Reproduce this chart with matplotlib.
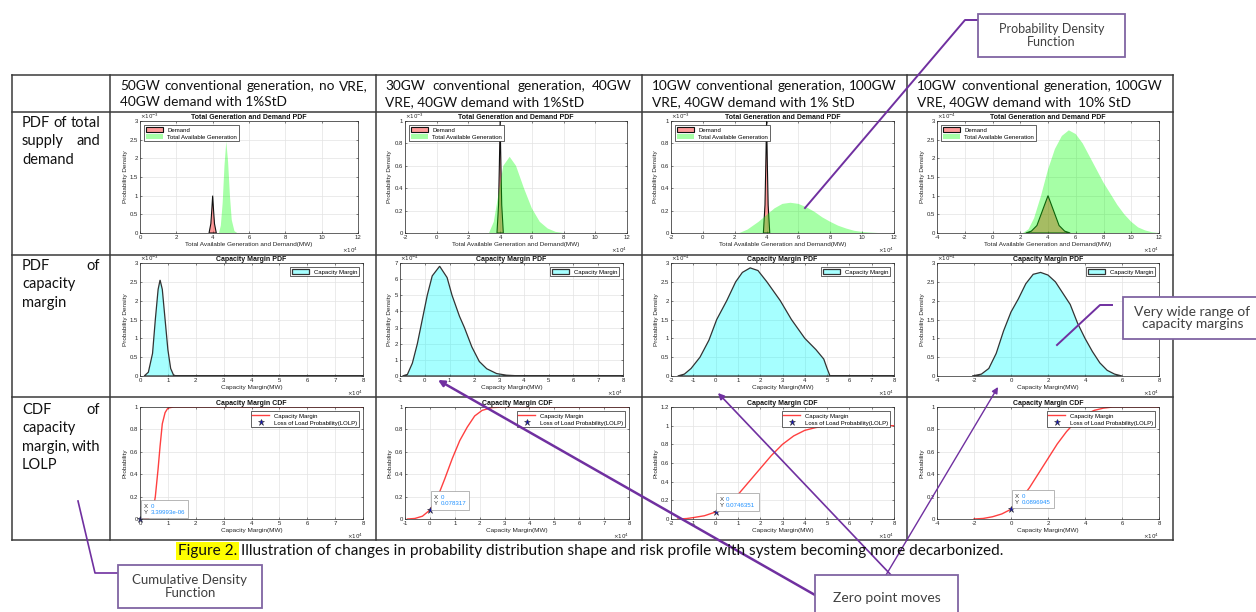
"""Recreate the decarbonisation risk-profile table figure (PDFs / CDFs of capacity margin)."""
import matplotlib

matplotlib.use("Agg")
import matplotlib.pyplot as plt
from matplotlib.offsetbox import AnnotationBbox, HPacker, TextArea
from matplotlib.patches import Rectangle

W, H = 1256, 612
SMALL = ["Liberation Sans", "DejaVu Sans"]
BODY = ["Lato", "DejaVu Sans"]
PURPLE = "#7030A0"
BOX_EDGE = "#8064A2"

# ---- data (x in 1e4 MW, densities in the panel's own exponent) ----
# row 1: total supply and demand PDFs
DEMAND_X = [3.8, 3.9, 3.95, 4.0, 4.05, 4.1, 4.2]
DEMAND_Y = [0, 0.25, 0.6, 1.0, 0.6, 0.25, 0]
DEMAND4_X = [2.4, 2.8, 3.2, 3.6, 4.0, 4.4, 4.8, 5.2, 5.6]
DEMAND4_Y = [0, 0.05, 0.2, 0.6, 1.0, 0.6, 0.2, 0.05, 0]
GEN1_X = [4.35, 4.45, 4.55, 4.65, 4.75, 4.85, 4.95, 5.05, 5.2, 5.35]
GEN1_Y = [0, 0.2, 0.8, 1.8, 2.45, 1.9, 1.0, 0.35, 0.05, 0]
GEN2_X = [3.3, 3.6, 3.9, 4.2, 4.6, 5.0, 5.5, 6.0, 6.5, 7.0, 7.5, 8.0]
GEN2_Y = [0, 0.1, 0.35, 0.6, 0.68, 0.6, 0.4, 0.22, 0.1, 0.04, 0.01, 0]
GEN3_X = [2.3, 2.8, 3.5, 4.0, 4.5, 5.0, 5.5, 6.0, 6.5, 7.0, 7.5, 8.0, 8.5,
          9.0, 9.5, 10.0, 10.5, 11.0]
GEN3_Y = [0, 0.03, 0.1, 0.16, 0.22, 0.26, 0.27, 0.26, 0.23, 0.19, 0.14, 0.1,
          0.065, 0.04, 0.02, 0.01, 0.004, 0]
GEN4_X = [2.2, 2.6, 3.0, 3.5, 4.0, 4.5, 5.0, 5.5, 6.0, 6.5, 7.0, 7.5, 8.0,
          8.5, 9.0, 9.5, 10.0, 10.5, 11.0, 11.5, 12.0]
GEN4_Y = [0, 0.1, 0.4, 1.0, 1.7, 2.25, 2.6, 2.75, 2.65, 2.4, 2.05, 1.7, 1.35,
          1.05, 0.75, 0.5, 0.3, 0.15, 0.07, 0.02, 0]

# row 2: capacity margin PDFs
MAR1_X = [0.15, 0.3, 0.45, 0.55, 0.65, 0.72, 0.8, 0.9, 1.0, 1.1, 1.2, 1.3, 8.0]
MAR1_Y = [0, 0.1, 0.6, 1.5, 2.3, 2.55, 2.3, 1.5, 0.7, 0.2, 0.03, 0, 0]
MAR2_X = [-0.9, -0.7, -0.5, -0.3, -0.1, 0.1, 0.3, 0.6, 0.9, 1.1, 1.4, 1.6,
          1.9, 2.2, 2.5, 2.9, 3.3, 3.8, 4.5, 8.0]
MAR2_Y = [0, 0.1, 0.8, 2.0, 3.5, 5.0, 6.2, 6.8, 6.1, 5.0, 3.7, 3.0, 1.8, 0.9,
          0.45, 0.15, 0.05, 0.01, 0, 0]
MAR3_X = [-1.7, -1.4, -1.1, -0.7, -0.3, 0.05, 0.5, 0.9, 1.2, 1.55, 1.9, 2.3,
          2.9, 3.4, 4.0, 4.5, 4.85, 5.0, 5.13, 8.0]
MAR3_Y = [0, 0.05, 0.2, 0.5, 0.95, 1.5, 2.0, 2.5, 2.75, 2.87, 2.8, 2.5, 2.0,
          1.5, 1.0, 0.7, 0.45, 0.2, 0, 0]
MAR4_X = [-2.1, -1.6, -1.2, -0.8, -0.4, 0.0, 0.4, 0.8, 1.2, 1.6, 2.0, 2.4,
          2.8, 3.2, 3.6, 4.0, 4.4, 4.8, 5.2, 5.6, 6.0]
MAR4_Y = [0, 0.05, 0.2, 0.6, 1.2, 1.7, 2.05, 2.45, 2.7, 2.75, 2.68, 2.5, 2.2,
          1.9, 1.4, 1.0, 0.65, 0.35, 0.15, 0.05, 0]

# row 3: capacity margin CDFs and LOLP data tips
CDF1_X = [0, 0.3, 0.45, 0.55, 0.65, 0.72, 0.8, 0.9, 1.0, 1.2, 8.0]
CDF1_Y = [0, 0.005, 0.05, 0.2, 0.45, 0.65, 0.85, 0.95, 0.99, 1.0, 1.0]
CDF2_X = [-0.9, -0.6, -0.3, 0, 0.3, 0.6, 0.9, 1.2, 1.5, 1.8, 2.1, 2.5, 3.0, 8.0]
CDF2_Y = [0, 0.005, 0.025, 0.08, 0.19, 0.36, 0.54, 0.7, 0.82, 0.92, 0.97,
          0.995, 1.0, 1.0]
CDF3_X = [-1.7, -1.3, -1.0, -0.5, 0, 0.5, 1.0, 1.5, 2.0, 2.5, 3.0, 3.5, 4.0,
          4.5, 5.1, 8.0]
CDF3_Y = [0, 0.005, 0.015, 0.035, 0.075, 0.15, 0.26, 0.4, 0.54, 0.68, 0.8,
          0.89, 0.95, 0.98, 1.0, 1.0]
CDF4_X = [-2.0, -1.5, -1.0, -0.5, 0, 0.5, 1.0, 1.5, 2.0, 2.5, 3.0, 3.5, 4.0,
          4.5, 5.0, 5.5, 8.0]
CDF4_Y = [0, 0.005, 0.02, 0.045, 0.087, 0.17, 0.28, 0.41, 0.54, 0.67, 0.78,
          0.87, 0.93, 0.97, 0.99, 1.0, 1.0]
LOLP_Y = [3.39993e-06, 0.078317, 0.0746351, 0.0896945]
LOLP_TEXT = ["3.39993e-06", "0.078317", "0.0746351", "0.0896945"]

HEADERS = [
    ("50GW conventional generation, no VRE,", "40GW demand with 1%StD"),
    ("30GW conventional generation, 40GW", "VRE, 40GW demand with 1%StD"),
    ("10GW conventional generation, 100GW", "VRE, 40GW demand with 1% StD"),
    ("10GW conventional generation, 100GW", "VRE, 40GW demand with  10% StD"),
]
ROW_LABELS = [
    ["PDF of total", "supply and", "demand"],
    ["PDF of", "capacity", "margin"],
    ["CDF of", "capacity", "margin, with", "LOLP"],
]

plt.rcParams["font.family"] = SMALL
plt.rcParams["axes.unicode_minus"] = False

fig = plt.figure(figsize=(W / 100, H / 100), dpi=100)
fig.patch.set_facecolor("white")


def make_ax(l, t, r, b):
    return fig.add_axes([l / W, 1 - b / H, (r - l) / W, (b - t) / H])


def style(ax, xlim, xticks, ylim, yticks, title, xlabel, ylabel, yexp=None):
    ax.set_xlim(xlim)
    ax.set_ylim(ylim)
    ax.set_xticks(xticks)
    ax.set_xticklabels([f"{v:g}" for v in xticks])
    ax.set_yticks(yticks)
    ax.set_yticklabels([f"{v:g}" for v in yticks])
    ax.grid(True, color="#e3e3e3", lw=0.5)
    ax.set_axisbelow(True)
    ax.tick_params(direction="in", length=1.5, width=0.4, labelsize=4.3,
                   pad=1.5, colors="#262626", top=True, right=True,
                   labeltop=False, labelright=False)
    for s in ax.spines.values():
        s.set_linewidth(0.5)
        s.set_color("#262626")
    ax.set_title(title, fontsize=5, fontweight="bold", pad=1.5, color="#111111")
    ax.set_xlabel(xlabel, fontsize=4.6, labelpad=1.5, color="#262626")
    ax.set_ylabel(ylabel, fontsize=4.6, labelpad=1.5, color="#262626")
    ax.text(1.0, -0.11, r"$\times10^{4}$", transform=ax.transAxes,
            fontsize=4, ha="right", va="top", color="#262626")
    if yexp is not None:
        ax.text(0.0, 1.0, r"$\times10^{%d}$" % yexp, transform=ax.transAxes,
                fontsize=4, ha="left", va="bottom", color="#262626")


def legend(ax, loc):
    leg = ax.legend(loc=loc, fontsize=4.3, handlelength=2.8, handleheight=0.9,
                    borderpad=0.3, labelspacing=0.25, borderaxespad=0.7,
                    fancybox=False, framealpha=1, edgecolor="#262626")
    leg.get_frame().set_linewidth(0.5)


# ---- row 1: supply and demand PDFs ----
ROW1_BOX = [(140, 121, 358, 233), (405, 121, 627, 233),
            (671, 121, 894, 233), (937, 121, 1159, 233)]
row1 = [
    (DEMAND_X, DEMAND_Y, GEN1_X, GEN1_Y, (0, 12), list(range(0, 13, 2)),
     (0, 3), [0, 0.5, 1, 1.5, 2, 2.5, 3], -3),
    (DEMAND_X, DEMAND_Y, GEN2_X, GEN2_Y, (-2, 12), list(range(-2, 13, 2)),
     (0, 1), [0, 0.2, 0.4, 0.6, 0.8, 1], -3),
    (DEMAND_X, DEMAND_Y, GEN3_X, GEN3_Y, (-2, 12), list(range(-2, 13, 2)),
     (0, 1), [0, 0.2, 0.4, 0.6, 0.8, 1], -3),
    (DEMAND4_X, DEMAND4_Y, GEN4_X, GEN4_Y, (-4, 12), list(range(-4, 13, 2)),
     (0, 3), [0, 0.5, 1, 1.5, 2, 2.5, 3], -4),
]
for box, (dx, dy, gx, gy, xl, xt, yl, yt, ye) in zip(ROW1_BOX, row1):
    ax = make_ax(*box)
    ax.fill(dx, dy, facecolor=(1, 0, 0, 0.4), edgecolor="#111111", lw=0.8,
            label="Demand")
    ax.fill(gx, gy, facecolor=(0, 1, 0, 0.35), edgecolor="none",
            label="Total Available Generation")
    style(ax, xl, xt, yl, yt, "Total Generation and Demand PDF",
          "Total Available Generation and Demand(MW)", "Probability Density", ye)
    legend(ax, "upper left")

# ---- row 2: capacity margin PDFs ----
ROW2_BOX = [(140, 263, 363, 376), (400, 263, 623, 376),
            (671, 263, 894, 376), (937, 263, 1159, 376)]
row2 = [
    (MAR1_X, MAR1_Y, (0, 8), list(range(0, 9)), (0, 3),
     [0, 0.5, 1, 1.5, 2, 2.5, 3], -3),
    (MAR2_X, MAR2_Y, (-1, 8), list(range(-1, 9)), (0, 7),
     list(range(0, 8)), -4),
    (MAR3_X, MAR3_Y, (-2, 8), list(range(-2, 9)), (0, 3),
     [0, 0.5, 1, 1.5, 2, 2.5, 3], -4),
    (MAR4_X, MAR4_Y, (-4, 8), list(range(-4, 9, 2)), (0, 3),
     [0, 0.5, 1, 1.5, 2, 2.5, 3], -4),
]
for box, (mx, my, xl, xt, yl, yt, ye) in zip(ROW2_BOX, row2):
    ax = make_ax(*box)
    ax.fill(mx, my, facecolor=(0, 1, 1, 0.35), edgecolor="#333333", lw=0.9,
            label="Capacity Margin")
    style(ax, xl, xt, yl, yt, "Capacity Margin PDF", "Capacity Margin(MW)",
          "Probability Density", ye)
    legend(ax, "upper right")

# ---- row 3: capacity margin CDFs with LOLP ----
ROW3_BOX = [(140, 407, 363, 519), (405, 407, 629, 519),
            (671, 407, 894, 519), (937, 407, 1159, 519)]
row3 = [
    (CDF1_X, CDF1_Y, (0, 8), list(range(0, 9)), (0, 1)),
    (CDF2_X, CDF2_Y, (-1, 8), list(range(-1, 9)), (0, 1)),
    (CDF3_X, CDF3_Y, (-2, 8), list(range(-2, 9)), (0, 1.2)),
    (CDF4_X, CDF4_Y, (-4, 8), list(range(-4, 9, 2)), (0, 1)),
]
for i, (box, (cx, cy, xl, xt, yl)) in enumerate(zip(ROW3_BOX, row3)):
    ax = make_ax(*box)
    ax.plot(cx, cy, color=(1, 0, 0, 0.75), lw=1.0, label="Capacity Margin")
    ax.plot([0], [LOLP_Y[i]], marker="*", ms=5, color="#1010c0",
            mec="#333333", mew=0.4, ls="none", clip_on=False,
            label="Loss of Load Probability(LOLP)")
    yt = [0, 0.2, 0.4, 0.6, 0.8, 1.0, 1.2] if yl[1] > 1 else \
        [0, 0.2, 0.4, 0.6, 0.8, 1.0]
    style(ax, xl, xt, yl, yt, "Capacity Margin CDF", "Capacity Margin(MW)",
          "Probability")
    legend(ax, "upper right")
    # MATLAB-style data tip: dark labels, blue values, one frame
    lab = TextArea("X\nY", textprops=dict(fontsize=4.4, color="#333333",
                                          linespacing=1.3))
    val = TextArea("0\n" + LOLP_TEXT[i],
                   textprops=dict(fontsize=4.4, color="#1e90ff",
                                  linespacing=1.3))
    pack = HPacker(children=[lab, val], align="top", pad=0, sep=1.5)
    tipbox = AnnotationBbox(pack, (0, LOLP_Y[i]), xycoords="data",
                            xybox=(3, 3), boxcoords="offset points",
                            box_alignment=(0, 0), frameon=True, pad=0.25,
                            bboxprops=dict(facecolor="white",
                                           edgecolor="#9a9a9a", lw=0.5))
    tipbox.set_zorder(6)
    ax.add_artist(tipbox)

# ---- overlay: table, labels, callouts ----
ov = fig.add_axes([0, 0, 1, 1])
ov.set_xlim(0, W)
ov.set_ylim(H, 0)
ov.axis("off")
ov.set_zorder(10)
ov.patch.set_alpha(0)
renderer = fig.canvas.get_renderer()

COL_X = [12, 110, 376, 642, 907, 1173]
ROW_Y = [75, 112, 255, 397, 540]
for y in ROW_Y:
    ov.plot([COL_X[0], COL_X[-1]], [y, y], color="#3a3a3a", lw=1.1)
for x in COL_X:
    ov.plot([x, x], [ROW_Y[0], ROW_Y[-1]], color="#3a3a3a", lw=1.1)


def word_widths(words, size):
    objs = [ov.text(0, 0, w, fontsize=size, family=BODY) for w in words]
    widths = [o.get_window_extent(renderer).width for o in objs]
    for o in objs:
        o.remove()
    return widths


def put_line(text, x0, x1, y, size, justify):
    if not justify:
        ov.text(x0, y, text, fontsize=size, family=BODY, ha="left",
                va="center", color="#111111")
        return
    words = text.split()
    widths = word_widths(words, size)
    gap = (x1 - x0 - sum(widths)) / max(len(words) - 1, 1)
    x = x0
    for w, wd in zip(words, widths):
        ov.text(x, y, w, fontsize=size, family=BODY, ha="left", va="center",
                color="#111111")
        x += wd + gap


HEAD_SPAN = [(120, 368), (385, 632), (652, 897), (917, 1163)]
# pick a header size at which every justified first line still fits
head_size = 10.5
for (a, b), (l1, _) in zip(HEAD_SPAN, HEADERS):
    ws = word_widths(l1.split(), 10.5)
    room = (b - a) - 3.5 * (len(ws) - 1)
    head_size = min(head_size, 10.5 * room / sum(ws))
for (a, b), (l1, l2) in zip(HEAD_SPAN, HEADERS):
    put_line(l1, a, b, 86, head_size, True)
    put_line(l2, a, b, 102, head_size, False)

LABEL_TOP = [123, 266, 410]
for top, lines in zip(LABEL_TOP, ROW_LABELS):
    for k, line in enumerate(lines):
        last = k == len(lines) - 1 or len(line.split()) == 1
        put_line(line, 22, 100, top + k * 18.3, 10.5, not last)

# caption
cap = ov.text(178, 551, "Figure 2.", fontsize=11.1, family=BODY, ha="left",
              va="center", color="#111111",
              bbox=dict(boxstyle="square,pad=0.1", facecolor="#ffff00",
                        edgecolor="none"))
cw = cap.get_window_extent(renderer).width
ov.text(178 + cw + 4, 551,
        "Illustration of changes in probability distribution shape and risk "
        "profile with system becoming more decarbonized.",
        fontsize=11.1, family=BODY, ha="left", va="center", color="#111111")


def callout(x0, y0, x1, y1, text, size):
    ov.add_patch(Rectangle((x0, y0), x1 - x0, y1 - y0, facecolor="white",
                           edgecolor=BOX_EDGE, lw=1.3, zorder=3))
    ov.text((x0 + x1) / 2, (y0 + y1) / 2, text, fontsize=size, family=BODY,
            ha="center", va="center", color="#404040", linespacing=1.05,
            zorder=4)


callout(978, 14, 1125, 57, "Probability Density\nFunction", 9)
callout(1123, 297, 1262, 339, "Very wide range of\ncapacity margins", 10)
callout(118, 565, 262, 608, "Cumulative Density\nFunction", 9.5)
callout(815, 575, 958, 620, "Zero point moves", 10)

# callout leader lines
ov.plot([978, 965, 805], [20, 20, 208], color=PURPLE, lw=1.4, zorder=2)
ov.plot([1112, 1100, 1057], [305, 305, 345], color=PURPLE, lw=1.4, zorder=2)
ov.plot([78, 95, 118], [501, 573, 573], color=PURPLE, lw=1.2, zorder=2)

# arrows from "Zero point moves"
for start, tip, lw in [((815, 595), (438, 380), 1.8),
                       ((891, 575), (718, 393), 1.2),
                       ((886, 575), (998, 387), 1.0)]:
    ov.annotate("", xy=tip, xytext=start,
                arrowprops=dict(arrowstyle="-|>", color=PURPLE, lw=lw,
                                mutation_scale=9, shrinkA=0, shrinkB=0),
                zorder=2)

fig.savefig("out.png", dpi=100, facecolor="white")
